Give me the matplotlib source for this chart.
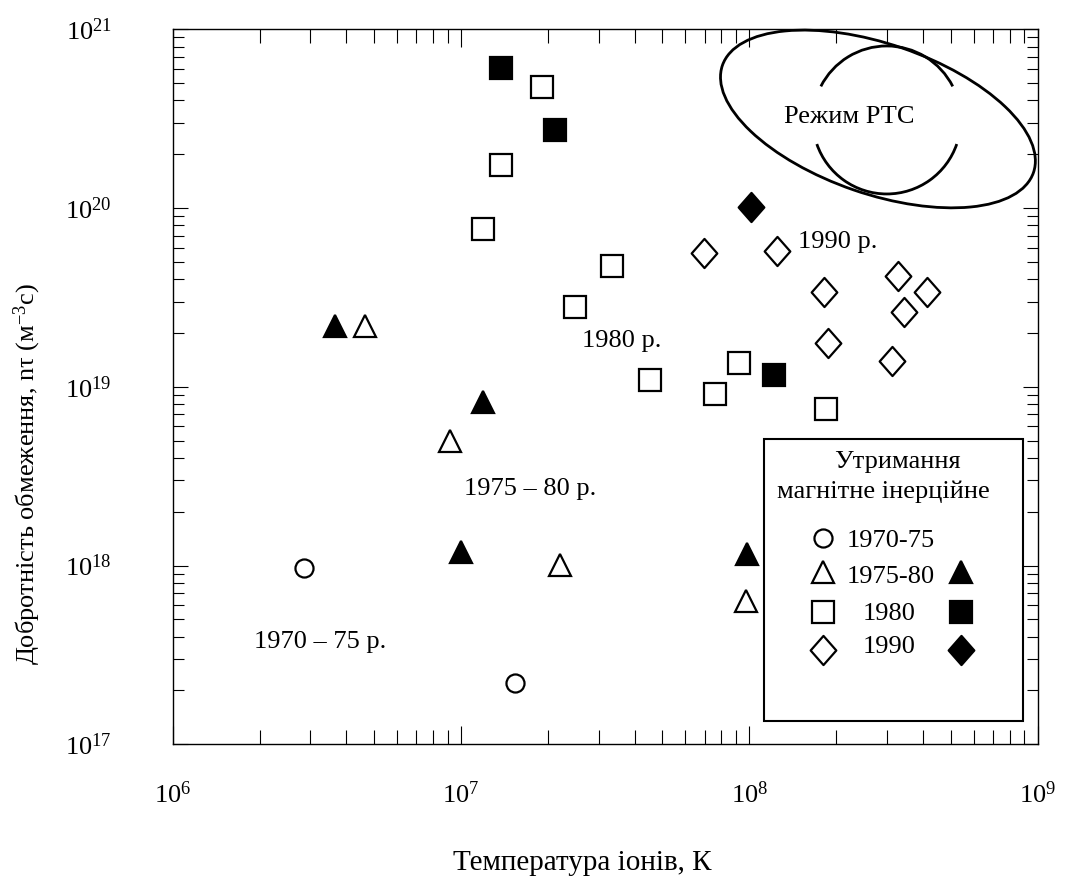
import matplotlib
matplotlib.use('Agg')
import matplotlib.pyplot as plt
import numpy as np
from matplotlib.patches import Ellipse, Arc, Rectangle
from matplotlib.transforms import ScaledTranslation
from matplotlib.markers import MarkerStyle
from matplotlib.path import Path
from matplotlib.ticker import LogLocator, NullFormatter

plt.rcParams['font.family'] = ['Liberation Serif', 'DejaVu Serif']
plt.rcParams['mathtext.fontset'] = 'custom'
plt.rcParams['mathtext.rm'] = 'Liberation Serif'
plt.rcParams['mathtext.it'] = 'Liberation Serif:italic'
plt.rcParams['mathtext.bf'] = 'Liberation Serif:bold'

# --- дані: температура іонів (К) і добротність nτ (м^-3 с)
# 1970-75, магнітне утримання
t_7075 = [2.85e6, 1.54e7]
nt_7075 = [9.7e17, 2.19e17]
# 1975-80, магнітне
t_7580_m = [4.63e6, 9.16e6, 2.205e7, 9.72e7]
nt_7580_m = [2.19e19, 4.98e18, 1.01e18, 6.31e17]
# 1975-80, інерційне
t_7580_i = [3.66e6, 1.192e7, 1.0e7, 9.84e7]
nt_7580_i = [2.19e19, 8.22e18, 1.19e18, 1.16e18]
# 1980, магнітне
t_80_m = [1.914e7, 1.374e7, 1.195e7, 3.33e7, 2.495e7, 4.52e7, 7.6e7, 9.21e7, 1.843e8]
nt_80_m = [4.75e20, 1.75e20, 7.66e19, 4.75e19, 2.81e19, 1.087e19, 9.08e18, 1.358e19, 7.54e18]
# 1980, інерційне
t_80_i = [1.374e7, 2.12e7, 1.22e8]
nt_80_i = [6.05e20, 2.75e20, 1.164e19]
# 1990, магнітне
t_90_m = [6.95e7, 1.245e8, 1.81e8, 3.29e8, 4.125e8, 3.43e8, 1.88e8, 3.13e8]
nt_90_m = [5.64e19, 5.74e19, 3.37e19, 4.18e19, 3.40e19, 2.62e19, 1.751e19, 1.398e19]
# 1990, інерційне
t_90_i = [1.018e8]
nt_90_i = [1.01e20]

# підписи на полі графіка: (текст, T, nτ, вирівнювання)
notes = [
    ('1990 р.', 1.476e8, 6.0e19, 'left'),
    ('1980 р.', 3.6e7, 1.66e19, 'center'),
    ('1975 – 80 р.', 1.024e7, 2.48e18, 'left'),
    ('1970 – 75 р.', 5.52e6, 3.44e17, 'right'),
    ('Режим РТС', 2.23e8, 2.99e20, 'center'),
]

fs = 19
mew = 1.6
diamond = MarkerStyle(Path([(0, 1), (0.88, 0), (0, -1), (-0.88, 0), (0, 1)], closed=True),
                      joinstyle='miter')
sty = {
    'circ': dict(marker='o', ms=13),
    'tri': dict(marker='^', ms=16.5),
    'sq': dict(marker='s', ms=16.5),
    'dia': dict(marker=diamond, ms=21),
}

fig = plt.figure(figsize=(10.65, 8.77), dpi=100)
ax = fig.add_axes([0.1622, 0.1513, 0.812, 0.8153])
ax.set_xscale('log')
ax.set_yscale('log')
ax.set_xlim(1e6, 1e9)
ax.set_ylim(1e17, 1e21)


def pts(x, y, kind, filled):
    ax.plot(x, y, ls='none', mec='black', mew=mew,
            mfc='black' if filled else 'white', **sty[kind])


pts(t_7075, nt_7075, 'circ', False)
pts(t_7580_m, nt_7580_m, 'tri', False)
pts(t_7580_i, nt_7580_i, 'tri', True)
pts(t_80_m, nt_80_m, 'sq', False)
pts(t_80_i, nt_80_i, 'sq', True)
pts(t_90_m, nt_90_m, 'dia', False)
pts(t_90_i, nt_90_i, 'dia', True)

for s, x, y, ha in notes:
    ax.text(x, y, s, fontsize=fs, ha=ha, va='baseline')

# область РТС: еліпс і дві дуги (розміри в дюймах навколо точки даних)
def at_data(x, y):
    return fig.dpi_scale_trans + ScaledTranslation(x, y, ax.transData)

ell = Ellipse((0, 0), 3.29, 1.50, angle=-19, fill=False, lw=2.0, ec='black',
              transform=at_data(2.795e8, 3.15e20), clip_on=False)
ax.add_patch(ell)
for th1, th2 in [(27, 153), (199, 341)]:
    ax.add_patch(Arc((0, 0), 1.48, 1.48, theta1=th1, theta2=th2, lw=2.0, color='black',
                     transform=at_data(3.0e8, 3.11e20), clip_on=False))

# легенда вручну
ax.add_patch(Rectangle((0.684, 0.0326), 0.299, 0.394, transform=ax.transAxes,
                       fill=False, lw=1.5, ec='black', zorder=5))
ax.text(0.838, 0.3864, 'Утримання', transform=ax.transAxes, fontsize=fs,
        ha='center', va='baseline')
ax.text(0.822, 0.3444, 'магнітне інерційне', transform=ax.transAxes, fontsize=fs,
        ha='center', va='baseline')
leg_rows = [
    ('circ', '1970-75', 0.2885, 0.2764, False, 'left'),
    ('tri', '1975-80', 0.2403, 0.2252, True, 'left'),
    ('sq', '1980', 0.1855, 0.1738, True, 'center'),
    ('dia', '1990', 0.1319, 0.1273, True, 'center'),
]
for kind, lab, ym, yb, has_filled, ha in leg_rows:
    ax.plot([0.752], [ym], transform=ax.transAxes, ls='none', mec='black', mew=mew,
            mfc='white', clip_on=False, **sty[kind])
    if has_filled:
        ax.plot([0.9117], [ym], transform=ax.transAxes, ls='none', mec='black', mew=mew,
                mfc='black', clip_on=False, **sty[kind])
    ax.text(0.7791 if ha == 'left' else 0.8282, yb, lab, transform=ax.transAxes,
            fontsize=fs, ha=ha, va='baseline')

# осі
ax.xaxis.set_minor_locator(LogLocator(base=10, subs=np.arange(2, 10)))
ax.yaxis.set_minor_locator(LogLocator(base=10, subs=np.arange(2, 10)))
ax.xaxis.set_minor_formatter(NullFormatter())
ax.yaxis.set_minor_formatter(NullFormatter())
ax.tick_params(which='both', direction='in', top=True, right=True, width=0.8,
               labelsize=fs)
ax.tick_params(axis='x', which='major', length=13, pad=27)
ax.tick_params(axis='x', which='minor', length=10)
ax.tick_params(axis='y', which='major', length=11, pad=44)
ax.tick_params(axis='y', which='minor', length=8)
for sp in ax.spines.values():
    sp.set_linewidth(1.0)

ax.set_xlabel('Температура іонів, К', fontsize=21)
ax.set_ylabel('Добротність обмеження, nτ (м$^{-3}$с)', fontsize=fs)
ax.xaxis.set_label_coords(0.474, -0.148)
ax.yaxis.set_label_coords(-0.15, 0.378)

fig.savefig('out.png', dpi=100)
